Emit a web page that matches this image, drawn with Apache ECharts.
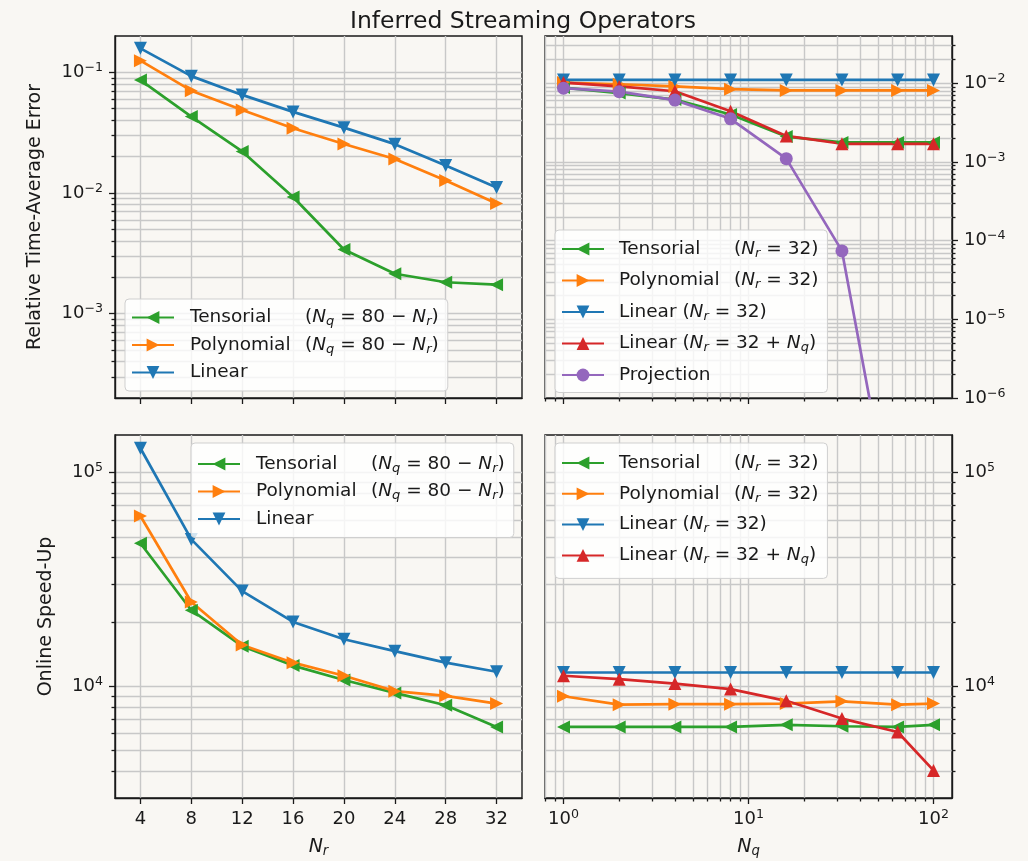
<!DOCTYPE html>
<html><head><meta charset="utf-8">
<script src="https://cdn.jsdelivr.net/npm/echarts@6/dist/echarts.min.js"></script>
<style>html,body{margin:0;padding:0;background:#f9f7f3;} #c{width:1028px;height:861px;}</style>
</head><body><div id="c"></div>
<script>
// ---------- data ----------
const Nr = [4, 8, 12, 16, 20, 24, 28, 32];
const Nq = [1, 2, 4, 8, 16, 32, 64, 100];

// relative time-average error vs Nr (Nq = 80 - Nr)
const errTensorialNr  = [0.0863, 0.043, 0.0221, 0.00927, 0.0034, 0.00214, 0.00182, 0.00174];
const errPolynomialNr = [0.125, 0.0705, 0.0488, 0.0344, 0.0255, 0.0191, 0.0127, 0.00817];
const errLinearNr     = [0.158, 0.093, 0.065, 0.047, 0.0348, 0.0254, 0.0169, 0.0111];

// relative time-average error vs Nq (Nr = 32)
const errTensorialNq  = [0.0088, 0.0075, 0.0062, 0.0040, 0.0021, 0.00177, 0.00177, 0.00177];
const errPolynomialNq = [0.0102, 0.0097, 0.0091, 0.0084, 0.0081, 0.0081, 0.0081, 0.0081];
const errLinearNq     = [0.0110, 0.0110, 0.0110, 0.0110, 0.0110, 0.0110, 0.0110, 0.0110];
const errLinearGrowNq = [0.0102, 0.0091, 0.0079, 0.0044, 0.00214, 0.0017, 0.0017, 0.0017];
const errProjectionNq = [0.00865, 0.0078, 0.0061, 0.00353, 0.0011, 0.000074, 1.2e-8, 1e-9];

// online speed-up vs Nr
const spTensorialNr  = [46700, 22700, 15400, 12500, 10700, 9310, 8150, 6450];
const spPolynomialNr = [62700, 24800, 15600, 12900, 11200, 9490, 9020, 8300];
const spLinearNr     = [130000, 48700, 27900, 20000, 16600, 14600, 12900, 11700];

// online speed-up vs Nq
const spTensorialNq  = [6450, 6450, 6450, 6450, 6600, 6500, 6450, 6600];
const spPolynomialNq = [8980, 8200, 8250, 8250, 8300, 8500, 8200, 8300];
const spLinearNq     = [11600, 11600, 11600, 11600, 11600, 11600, 11600, 11600];
const spLinearGrowNq = [11200, 10800, 10300, 9700, 8550, 7060, 6110, 4040];

// tick values
const NrTicks = [4, 8, 12, 16, 20, 24, 28, 32];
const NqTicks = [1, 10, 100];
const errLeftTicks = [1e-3, 1e-2, 1e-1];
const errRightTicks = [1e-6, 1e-5, 1e-4, 1e-3, 1e-2];
const speedTicks = [1e4, 1e5];

// ---------- style ----------
const FONT = 'DejaVu Sans';
const TXT = '#1a1a1a';
const GRIDC = '#c8c8c8';
const SPINE = '#1a1a1a';
const COL = {blue: '#1f77b4', orange: '#ff7f0e', green: '#2ca02c', red: '#d62728', purple: '#9467bd'};

const supRich = {
  b: {fontFamily: FONT, fontSize: 18, color: TXT, lineHeight: 22},
  s: {fontFamily: FONT, fontSize: 12.6, color: TXT, lineHeight: 8, verticalAlign: 'top'}
};
function powLabel(v) {
  const e = Math.round(Math.log10(v));
  return '{b|10}{s|' + (e < 0 ? '\u2212' : '') + Math.abs(e) + '}';
}
const mathRich = {
  t: {fontFamily: FONT, fontSize: 18.5, color: TXT, lineHeight: 22},
  n: {fontFamily: FONT, fontSize: 18.5, color: TXT, lineHeight: 22, width: 115},
  i: {fontFamily: FONT, fontSize: 18.5, color: TXT, lineHeight: 22, fontStyle: 'italic'},
  s: {fontFamily: FONT, fontSize: 13, color: TXT, lineHeight: 14, verticalAlign: 'bottom', fontStyle: 'italic'}
};
const nameRich = {
  i: {fontFamily: FONT, fontSize: 19, color: TXT, lineHeight: 22, fontStyle: 'italic'},
  s: {fontFamily: FONT, fontSize: 13.3, color: TXT, lineHeight: 14, verticalAlign: 'bottom', fontStyle: 'italic'}
};

const legendText = {
  'Tensorial (Nq = 80 - Nr)': '{n|Tensorial}{t|(}{i|N}{s|q}{t| = 80 \u2212 }{i|N}{s|r}{t|)}',
  'Polynomial (Nq = 80 - Nr)': '{n|Polynomial}{t|(}{i|N}{s|q}{t| = 80 \u2212 }{i|N}{s|r}{t|)}',
  'Linear': '{t|Linear}',
  'Tensorial (Nr = 32)': '{n|Tensorial}{t|(}{i|N}{s|r}{t| = 32)}',
  'Polynomial (Nr = 32)': '{n|Polynomial}{t|(}{i|N}{s|r}{t| = 32)}',
  'Linear (Nr = 32)': '{t|Linear (}{i|N}{s|r}{t| = 32)}',
  'Linear (Nr = 32 + Nq)': '{t|Linear (}{i|N}{s|r}{t| = 32 + }{i|N}{s|q}{t|)}',
  'Projection': '{t|Projection}'
};

function pairs(xs, ys) { return xs.map((x, i) => [x, ys[i]]); }

const MARK = {
  left: {symbol: 'triangle', symbolRotate: 90},
  right: {symbol: 'triangle', symbolRotate: -90},
  down: {symbol: 'triangle', symbolRotate: 180},
  up: {symbol: 'triangle', symbolRotate: 0},
  circle: {symbol: 'circle', symbolRotate: 0}
};
function line(name, g, xs, ys, color, mk, size) {
  return {
    type: 'line', name: name, xAxisIndex: g, yAxisIndex: g,
    data: pairs(xs, ys),
    symbol: MARK[mk].symbol, symbolRotate: MARK[mk].symbolRotate,
    symbolSize: size || 13, showSymbol: true, clip: true,
    lineStyle: {color: color, width: 2.7},
    itemStyle: {color: color},
    emphasis: {disabled: true}
  };
}

const spine = {show: true, lineStyle: {color: SPINE, width: 1.4}};
const gridLine = {show: true, lineStyle: {color: GRIDC, width: 1.4}};
const tickStyle = {color: SPINE, width: 1.3};

function nrAxis(g, withLabels) {
  const a = {
    type: 'value', gridIndex: g, min: 2, max: 34, minInterval: 4, maxInterval: 4,
    axisLine: spine,
    axisTick: {show: true, length: 6, lineStyle: tickStyle, customValues: NrTicks},
    axisLabel: {show: withLabels, customValues: NrTicks, fontFamily: FONT, fontSize: 18, color: TXT, margin: 12},
    splitLine: gridLine
  };
  if (withLabels) {
    a.name = '{i|N}{s|r}'; a.nameLocation = 'middle'; a.nameGap = 38;
    a.nameTextStyle = {rich: nameRich};
  }
  return a;
}
function nqAxis(g, withLabels) {
  const a = {
    type: 'log', logBase: 10, gridIndex: g, min: Math.pow(10, -0.1), max: Math.pow(10, 2.1),
    axisLine: spine,
    axisTick: {show: true, length: 6, lineStyle: tickStyle, customValues: NqTicks},
    minorTick: {show: true, splitNumber: 9, length: 3.5, lineStyle: tickStyle},
    axisLabel: {show: withLabels, customValues: NqTicks, formatter: powLabel, rich: supRich, margin: 10},
    splitLine: gridLine,
    minorSplitLine: gridLine
  };
  if (withLabels) {
    a.name = '{i|N}{s|q}'; a.nameLocation = 'middle'; a.nameGap = 38;
    a.nameTextStyle = {rich: nameRich};
  }
  return a;
}
function yLog(g, min, max, ticks, pos, name, nameGap) {
  const a = {
    type: 'log', logBase: 10, gridIndex: g, min: min, max: max, position: pos,
    axisLine: spine,
    axisTick: {show: true, length: 6, lineStyle: tickStyle, customValues: ticks},
    minorTick: {show: true, splitNumber: 9, length: 3.5, lineStyle: tickStyle},
    axisLabel: {customValues: ticks, formatter: powLabel, rich: supRich, margin: 12},
    splitLine: gridLine,
    minorSplitLine: gridLine
  };
  if (name) {
    a.name = name; a.nameLocation = 'middle'; a.nameGap = nameGap;
    a.nameTextStyle = {fontFamily: FONT, fontSize: 19, color: TXT, lineHeight: 22};
  }
  return a;
}

function legend(g, left, top, names, gap, pad, textPad) {
  return {
    orient: 'vertical', left: left, top: top, data: names,
    itemWidth: 42, itemHeight: 16, itemGap: gap,
    selectedMode: false, padding: pad,
    backgroundColor: 'rgba(255,255,255,0.8)', borderColor: '#cfcfcf', borderWidth: 1, borderRadius: 4,
    formatter: function (n) { return legendText[n]; },
    textStyle: {rich: mathRich, padding: [0, 0, 0, textPad]}
  };
}

const leftNames = ['Tensorial (Nq = 80 - Nr)', 'Polynomial (Nq = 80 - Nr)', 'Linear'];
const rightNamesTop = ['Tensorial (Nr = 32)', 'Polynomial (Nr = 32)', 'Linear (Nr = 32)', 'Linear (Nr = 32 + Nq)', 'Projection'];
const rightNamesBottom = ['Tensorial (Nr = 32)', 'Polynomial (Nr = 32)', 'Linear (Nr = 32)', 'Linear (Nr = 32 + Nq)'];

const option = {
  animation: false,
  backgroundColor: '#f9f7f3',
  textStyle: {fontFamily: FONT},
  title: {
    text: 'Inferred Streaming Operators', left: 345, top: 5,
    textStyle: {fontFamily: FONT, fontSize: 23.5, fontWeight: 'normal', color: TXT}
  },
  grid: [
    {left: 115, top: 36, width: 407, height: 362, show: true, borderColor: SPINE, borderWidth: 1.4, backgroundColor: 'transparent', outerBoundsMode: 'none'},
    {left: 545, top: 36, width: 407, height: 362, show: true, borderColor: SPINE, borderWidth: 1.4, backgroundColor: 'transparent', outerBoundsMode: 'none'},
    {left: 115, top: 435, width: 407, height: 363, show: true, borderColor: SPINE, borderWidth: 1.4, backgroundColor: 'transparent', outerBoundsMode: 'none'},
    {left: 545, top: 435, width: 407, height: 363, show: true, borderColor: SPINE, borderWidth: 1.4, backgroundColor: 'transparent', outerBoundsMode: 'none'}
  ],
  xAxis: [nrAxis(0, false), nqAxis(1, false), nrAxis(2, true), nqAxis(3, true)],
  yAxis: [
    yLog(0, 2e-4, 0.2, errLeftTicks, 'left', 'Relative Time-Average Error', 69),
    yLog(1, 1e-6, Math.pow(10, -1.4), errRightTicks, 'right'),
    yLog(2, 3000, 150000, speedTicks, 'left', 'Online Speed-Up', 58),
    yLog(3, 3000, 150000, speedTicks, 'right')
  ],
  legend: [
    legend(0, 125, 299, leftNames, 7, [9, 9, 9, 6], 11),
    legend(1, 555, 230, rightNamesTop, 11, [9.5, 9, 8, 6], 10),
    legend(2, 191, 443, leftNames, 7, [11.5, 9, 9, 6], 11),
    legend(3, 555, 443, rightNamesBottom, 10.3, [10.5, 9, 12, 6], 10)
  ],
  series: [
    line('Tensorial (Nq = 80 - Nr)', 0, Nr, errTensorialNr, COL.green, 'left'),
    line('Polynomial (Nq = 80 - Nr)', 0, Nr, errPolynomialNr, COL.orange, 'right'),
    line('Linear', 0, Nr, errLinearNr, COL.blue, 'down'),

    line('Tensorial (Nr = 32)', 1, Nq, errTensorialNq, COL.green, 'left'),
    line('Polynomial (Nr = 32)', 1, Nq, errPolynomialNq, COL.orange, 'right'),
    line('Linear (Nr = 32)', 1, Nq, errLinearNq, COL.blue, 'down'),
    line('Linear (Nr = 32 + Nq)', 1, Nq, errLinearGrowNq, COL.red, 'up'),
    line('Projection', 1, Nq, errProjectionNq, COL.purple, 'circle', 13),

    line('Tensorial (Nq = 80 - Nr)', 2, Nr, spTensorialNr, COL.green, 'left'),
    line('Polynomial (Nq = 80 - Nr)', 2, Nr, spPolynomialNr, COL.orange, 'right'),
    line('Linear', 2, Nr, spLinearNr, COL.blue, 'down'),

    line('Tensorial (Nr = 32)', 3, Nq, spTensorialNq, COL.green, 'left'),
    line('Polynomial (Nr = 32)', 3, Nq, spPolynomialNq, COL.orange, 'right'),
    line('Linear (Nr = 32)', 3, Nq, spLinearNq, COL.blue, 'down'),
    line('Linear (Nr = 32 + Nq)', 3, Nq, spLinearGrowNq, COL.red, 'up')
  ]
};
const chart = echarts.init(document.getElementById('c'));
chart.setOption(option);
</script>
</body></html>
